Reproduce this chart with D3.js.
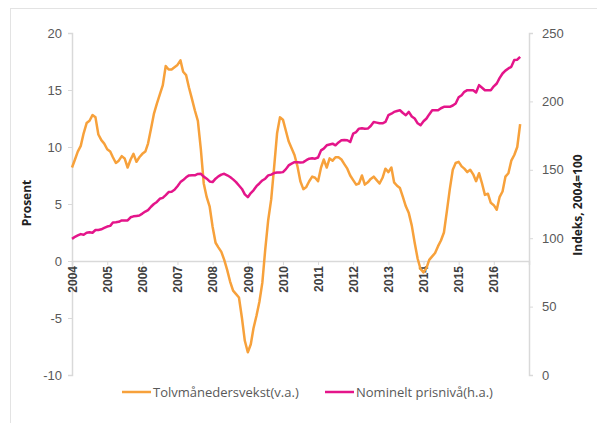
<!DOCTYPE html>
<html>
<head>
<meta charset="utf-8">
<script src="https://cdn.jsdelivr.net/npm/d3@7"></script>
<style>
  body { margin: 0; background: #fff; }
  svg { font-family: "Open Sans", "DejaVu Sans", sans-serif; }
</style>
</head>
<body>
<svg id="chart" width="597" height="423"></svg>
<script>
// monthly data, Jan 2004 - Oct 2016
const startMonth = new Date(2004, 0, 1);

// Tolvmånedersvekst (v.a.), percent
const growth = [
  8.2, 8.9, 9.6, 10.1, 11.2, 12.1, 12.3, 12.8, 12.6, 11.1, 10.6, 10.3,
  9.8, 9.6, 9.1, 8.6, 8.8, 9.2, 9.0, 8.2, 8.9, 9.4, 8.7, 9.1,
  9.4, 9.6, 10.3, 11.6, 12.9, 13.8, 14.6, 15.4, 17.1, 16.8, 16.8, 17.0,
  17.2, 17.6, 16.6, 16.3, 15.2, 14.2, 13.2, 12.3, 9.8, 6.8, 5.6, 4.8,
  3.0, 1.6, 1.2, 0.8, 0.1, -0.8, -1.8, -2.6, -2.9, -3.2, -5.0, -7.0,
  -8.0, -7.3, -5.9, -4.8, -3.6, -1.9, 1.0, 3.6, 5.4, 8.2, 11.2, 12.6,
  12.4, 11.4, 10.5, 9.9, 9.3, 8.3, 7.0, 6.3, 6.5, 7.0, 7.4, 7.3,
  7.0, 8.2, 8.9, 8.2, 9.0, 8.8, 9.1, 9.1, 8.9, 8.5, 8.1, 7.5,
  7.1, 6.7, 6.8, 7.5, 6.7, 6.9, 7.2, 7.4, 7.1, 6.8, 7.3, 8.1,
  7.8, 8.2, 6.9, 6.6, 6.4, 5.6, 4.8, 4.2, 3.1, 1.6, 0.2, -0.7,
  -1.0, -0.6, 0.1, 0.4, 0.7, 1.3, 1.8, 2.5, 4.4, 6.3, 8.0, 8.6,
  8.7, 8.3, 8.1, 7.8, 8.0, 7.6, 7.0, 7.7, 6.8, 5.8, 5.9, 5.1,
  4.9, 4.5, 5.6, 6.1, 7.4, 7.7, 8.8, 9.3, 10.0, 12.0
];

// Nominelt prisnivå (h.a.), index 2004=100
const priceIndex = [
  99.5, 101, 102, 103, 102.5, 104, 104.3, 104, 106, 106, 106.5, 107.5,
  108.5, 109, 111.5, 111.7, 112, 113, 113, 113, 115.3, 116, 116.3, 116.6,
  118, 119.5, 120.5, 123, 125, 126.5, 128.8, 129.5, 131.5, 133.7, 134, 135.4,
  138, 141, 142.5, 144.5, 145.9, 146, 146, 147, 147.1, 145, 143.5, 141.5,
  141, 143.5, 145.2, 146.5, 147.1, 146, 144.7, 143, 141, 138.5, 136, 132,
  130, 133, 135, 138, 140, 142.2, 143.5, 145.9, 146.5, 147.6, 148, 148,
  148.3, 150.5, 153.2, 154.5, 155.6, 155.6, 155.3, 155.6, 157, 158.1, 158.5, 158.1,
  159, 164.2, 165.5, 167.9, 168.5, 169.1, 167.9, 170, 171.6, 171.8, 171.6, 170.3,
  176.5, 177.6, 180.1, 180.4, 180, 180.1, 182, 185, 184.5, 184, 184, 185,
  189.9, 191, 192.3, 193, 193.5, 191.5, 189.9, 192.3, 189, 187.5, 184, 182.6,
  185.5, 187.5, 190.5, 193.5, 193.5, 193.5, 195, 196, 196, 196, 197, 198.5,
  203, 204.5, 207, 208.2, 208.2, 208.2, 206.5, 211.9, 210, 208.2, 208.2, 208.2,
  211, 213.1, 217, 220.4, 222.5, 224.1, 225.3, 230.2, 230.5, 232.6
];

const years = [2004, 2005, 2006, 2007, 2008, 2009, 2010, 2011, 2012, 2013, 2014, 2015, 2016];
const leftTicks = [-10, -5, 0, 5, 10, 15, 20];
const rightTicks = [0, 50, 100, 150, 200, 250];

const seriesNames = ["Tolvmånedersvekst(v.a.)", "Nominelt prisnivå(h.a.)"];
const orange = "#f7a13b";
const magenta = "#e4158a";
const gridGrey = "#d9d9d9";

const svg = d3.select("#chart");

// outer frame
svg.append("rect")
  .attr("x", 10.5).attr("y", 8.5)
  .attr("width", 600).attr("height", 430)
  .attr("fill", "none")
  .attr("stroke", "#e3e3e3");

const plotLeft = 72, plotRight = 529, plotTop = 33, plotBottom = 375;

const x = d3.scaleTime()
  .domain([new Date(2004, 0, 1), new Date(2017, 0, 1)])
  .range([plotLeft, plotRight]);

const yLeft = d3.scaleLinear().domain([-10, 20]).range([plotBottom, plotTop]);
const yRight = d3.scaleLinear().domain([0, 250]).range([plotBottom, plotTop]);

const dateOf = i => d3.timeMonth.offset(startMonth, i);

// left axis (plain hyphen for negatives, like the original)
const gL = svg.append("g")
  .attr("transform", "translate(" + plotLeft + ",0)")
  .call(d3.axisLeft(yLeft).tickValues(leftTicks).tickFormat(d => String(d)).tickSize(4).tickPadding(6));
gL.select(".domain").attr("stroke", gridGrey).attr("stroke-width", 1.5);
gL.selectAll(".tick line").attr("stroke", gridGrey);
gL.selectAll("text").attr("font-size", 13).attr("fill", "#595959");

// right axis
const gR = svg.append("g")
  .attr("transform", "translate(" + plotRight + ",0)")
  .call(d3.axisRight(yRight).tickValues(rightTicks).tickSize(4).tickPadding(9));
gR.select(".domain").attr("stroke", gridGrey).attr("stroke-width", 1.5);
gR.selectAll(".tick line").attr("stroke", gridGrey);
gR.selectAll("text").attr("font-size", 13).attr("fill", "#595959");

// x axis on the zero line of the left scale
const gX = svg.append("g")
  .attr("transform", "translate(0," + yLeft(0) + ")")
  .call(d3.axisBottom(x)
    .tickValues(years.map(y => new Date(y, 0, 1)))
    .tickFormat(d3.timeFormat("%Y"))
    .tickSize(4)
    .tickPadding(4));
gX.select(".domain").attr("stroke", gridGrey).attr("stroke-width", 1.5);
gX.selectAll(".tick line").attr("stroke", gridGrey);
gX.selectAll("text")
  .attr("font-size", 12)
  .attr("font-weight", "bold")
  .attr("fill", "#404040")
  .attr("text-anchor", "end")
  .attr("dy", "0.35em")
  .attr("transform", "translate(0,5) rotate(-90)")
  .attr("x", 0).attr("y", 0);

// axis titles
svg.append("text")
  .attr("transform", "translate(31,203) rotate(-90)")
  .attr("text-anchor", "middle")
  .attr("font-size", 12)
  .attr("font-weight", "bold")
  .attr("fill", "#222")
  .text("Prosent");

svg.append("text")
  .attr("transform", "translate(582,205) rotate(-90)")
  .attr("text-anchor", "middle")
  .attr("font-size", 12)
  .attr("font-weight", "bold")
  .attr("fill", "#222")
  .text("Indeks, 2004=100");

// Tolvmånedersvekst line
svg.append("path")
  .datum(growth)
  .attr("fill", "none")
  .attr("stroke", orange)
  .attr("stroke-width", 2.5)
  .attr("stroke-linejoin", "round")
  .attr("d", d3.line()
    .x((d, i) => x(dateOf(i)))
    .y(d => yLeft(d)));

// Nominelt prisnivå line
svg.append("path")
  .datum(priceIndex)
  .attr("fill", "none")
  .attr("stroke", magenta)
  .attr("stroke-width", 2.5)
  .attr("stroke-linejoin", "round")
  .attr("d", d3.line()
    .x((d, i) => x(dateOf(i)))
    .y(d => yRight(d)));

// legend
const legend = svg.append("g").attr("transform", "translate(0,392)");
const legendX = [122, 325];
[orange, magenta].forEach((c, i) => {
  legend.append("line")
    .attr("x1", legendX[i]).attr("x2", legendX[i] + 29)
    .attr("y1", 0).attr("y2", 0)
    .attr("stroke", c).attr("stroke-width", 2.5);
  legend.append("text")
    .attr("x", legendX[i] + 31).attr("y", 0)
    .attr("dy", "0.35em")
    .attr("font-size", 13)
    .attr("fill", "#595959")
    .text(seriesNames[i]);
});
</script>
</body>
</html>
